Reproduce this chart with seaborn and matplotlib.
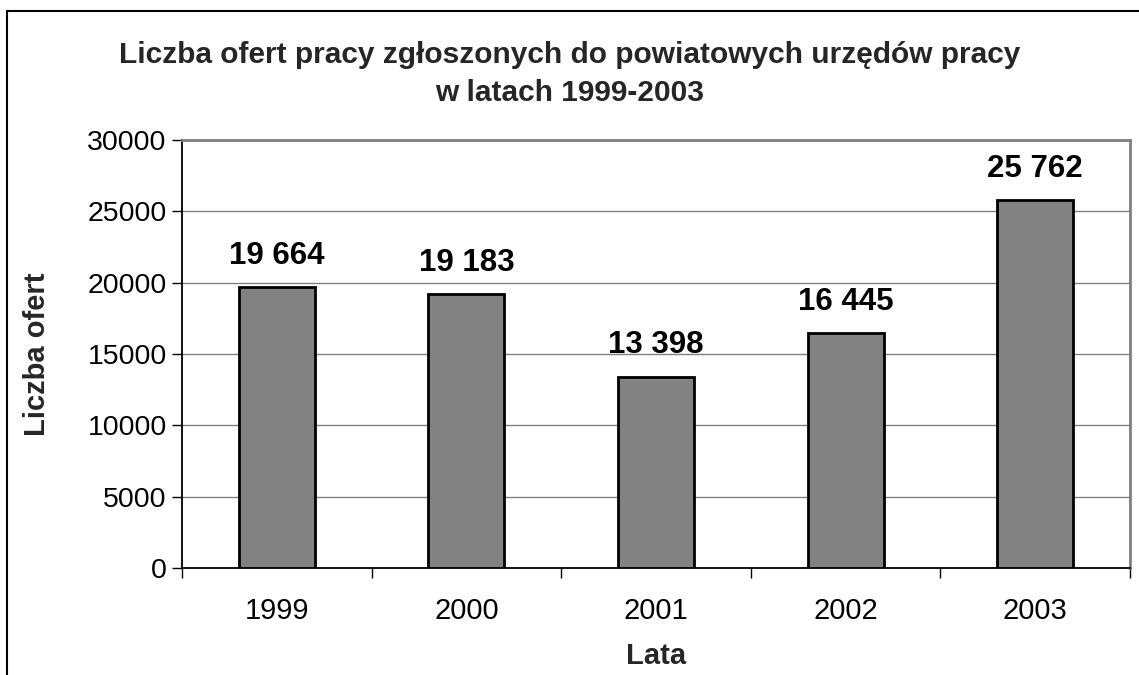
import numpy as np
import pandas as pd
import seaborn as sns
import matplotlib.pyplot as plt
from matplotlib.lines import Line2D

# data
years = ["1999", "2000", "2001", "2002", "2003"]
offers = [19664, 19183, 13398, 16445, 25762]
y_ticks = [0, 5000, 10000, 15000, 20000, 25000, 30000]

sns.set_theme(style="white")
plt.rcParams['font.family'] = ['Liberation Sans', 'DejaVu Sans']

df = pd.DataFrame({"Lata": years, "Liczba ofert": offers})

fig = plt.figure(figsize=(11.39, 6.75), dpi=100)
ax = fig.add_axes([182 / 1139, 1 - 568 / 675, (1130 - 182) / 1139, (568 - 140) / 675])

sns.barplot(data=df, x="Lata", y="Liczba ofert", ax=ax, color="#828282",
            saturation=1, width=0.4, edgecolor="black", linewidth=2, zorder=3)

# value labels with space as thousands separator
labels = [f"{v:,}".replace(",", " ") for v in offers]
ax.bar_label(ax.containers[0], labels=labels, padding=12,
             fontsize=22.5, fontweight="bold", color="black")

ax.set_ylim(0, 30000)
ax.set_xlim(-0.5, len(years) - 0.5)
ax.set_yticks(y_ticks)
ax.set_yticklabels([str(t) for t in y_ticks])
ax.yaxis.grid(True, color="#808080", linewidth=1, zorder=0)
ax.set_axisbelow(True)

# category boundary ticks on x axis
ax.set_xticks(np.arange(-0.5, len(years), 1.0), minor=True)
ax.tick_params(axis="x", which="major", length=0, pad=21, labelsize=21, colors="black")
ax.tick_params(axis="x", which="minor", bottom=True, length=7, width=1, color="black", direction="out")
ax.tick_params(axis="y", left=True, length=7, width=1, color="black", direction="out",
               pad=4, labelsize=20.5, colors="black")

for side in ["left", "bottom"]:
    ax.spines[side].set_color("black")
    ax.spines[side].set_linewidth(1.3)
for side in ["top", "right"]:
    ax.spines[side].set_visible(True)
    ax.spines[side].set_color("#808080")
    ax.spines[side].set_linewidth(2)

ax.set_xlabel("Lata", fontsize=21, fontweight="bold", labelpad=12)
ax.set_ylabel("Liczba ofert", fontsize=21, fontweight="bold", labelpad=26)

fig.text(0.5, 1 - 74 / 675,
         "Liczba ofert pracy zgłoszonych do powiatowych urzędów pracy\nw latach 1999-2003",
         ha="center", va="center", fontsize=21.5, fontweight="bold", linespacing=1.45)

# outer chart border (left and top edges visible)
fig.add_artist(Line2D([7 / 1139, 7 / 1139], [0, 1 - 11 / 675], transform=fig.transFigure,
                      color="black", linewidth=1.5))
fig.add_artist(Line2D([7 / 1139, 1], [1 - 11 / 675, 1 - 11 / 675], transform=fig.transFigure,
                      color="black", linewidth=1.5))

fig.savefig("out.png", dpi=100, facecolor="white")
